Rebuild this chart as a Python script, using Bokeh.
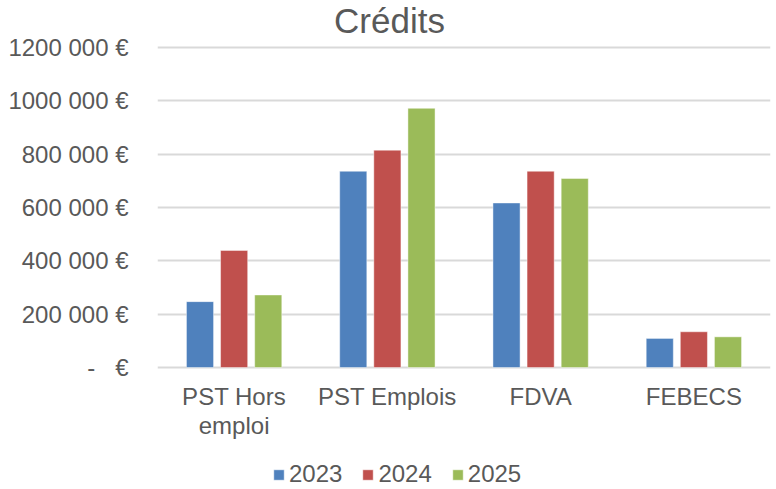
from bokeh.plotting import figure
from bokeh.models import (FactorRange, Range1d, FixedTicker, Legend, LegendItem,
                          Label, ColumnDataSource)
from bokeh.core.properties import value
from bokeh.transform import dodge
from bokeh.embed import file_html
from bokeh.resources import INLINE

categories = ["PST Hors\nemploi", "PST Emplois", "FDVA", "FEBECS"]
years = ["2023", "2024", "2025"]
v2023 = [247000, 736000, 617000, 109000]
v2024 = [439000, 815000, 736000, 134000]
v2025 = [272000, 972000, 709000, 115000]
y_ticks = [0, 200000, 400000, 600000, 800000, 1000000, 1200000]
y_tick_labels = ["-\u00a0\u00a0\u00a0€", "200 000 €", "400 000 €", "600 000 €",
                 "800 000 €", "1000 000 €", "1200 000 €"]
colors = ["#4F81BD", "#C0504D", "#9BBB59"]
title_text = "Crédits"

FONT = "Liberation Sans"
TXT = "#595959"

PX = 3750  # data units per pixel on the y scale
cat_label_y = -15 * PX  # category labels sit below the zero line

src = ColumnDataSource(dict(cat=categories, y2023=v2023, y2024=v2024, y2025=v2025,
                            ly=[cat_label_y] * len(categories)))

# y range extends above/below the ticks so title, category labels and
# legend can sit inside the frame
p = figure(x_range=FactorRange(*categories),
           y_range=Range1d(-122 * PX, 1200000 + 47 * PX),
           frame_width=613, frame_height=489,
           min_border_left=157, min_border_right=6,
           min_border_top=0, min_border_bottom=0,
           output_backend="svg", toolbar_location=None, title=None)

p.outline_line_color = None
p.background_fill_color = "white"
p.border_fill_color = "white"
p.xgrid.grid_line_color = None
p.ygrid.grid_line_color = "#D9D9D9"
p.ygrid.grid_line_width = 2
p.xaxis.visible = False

p.yaxis.ticker = FixedTicker(ticks=y_ticks)
p.yaxis.major_label_overrides = dict(zip(y_ticks, y_tick_labels))
p.yaxis.axis_line_color = None
p.yaxis.major_tick_line_color = None
p.yaxis.minor_tick_line_color = None
p.yaxis.major_label_standoff = 23
p.yaxis.major_label_text_font = FONT
p.yaxis.major_label_text_font_size = "24px"
p.yaxis.major_label_text_color = TXT

offsets = [-0.2226, 0.0, 0.2226]
cols = ["y2023", "y2024", "y2025"]
items = []
for yr, off, col, c in zip(years, offsets, cols, colors):
    r = p.vbar(x=dodge("cat", off, range=p.x_range), top=col, width=0.177,
               source=src, fill_color=c, line_color="white", line_alpha=0.45,
               line_width=1)
    items.append(LegendItem(label=yr, renderers=[r]))

# category labels
p.text(x="cat", y="ly", text="cat", source=src, text_align="center",
       text_baseline="top", text_font=value(FONT),
       text_font_size="24px", text_color=TXT, text_line_height=1.1)

legend = Legend(items=items, orientation="horizontal", location=(115, 1),
                glyph_width=13, glyph_height=13, label_standoff=4, spacing=19,
                padding=0, margin=0, border_line_color=None,
                background_fill_alpha=0,
                label_text_font=FONT, label_text_font_size="24px",
                label_text_color=TXT)
p.add_layout(legend)

p.add_layout(Label(x=1.514, y=1302375, text=title_text, text_align="center",
                   text_baseline="alphabetic", text_font=FONT,
                   text_font_size="35px", text_color=TXT))

open("out.html", "w").write(file_html(p, INLINE))
